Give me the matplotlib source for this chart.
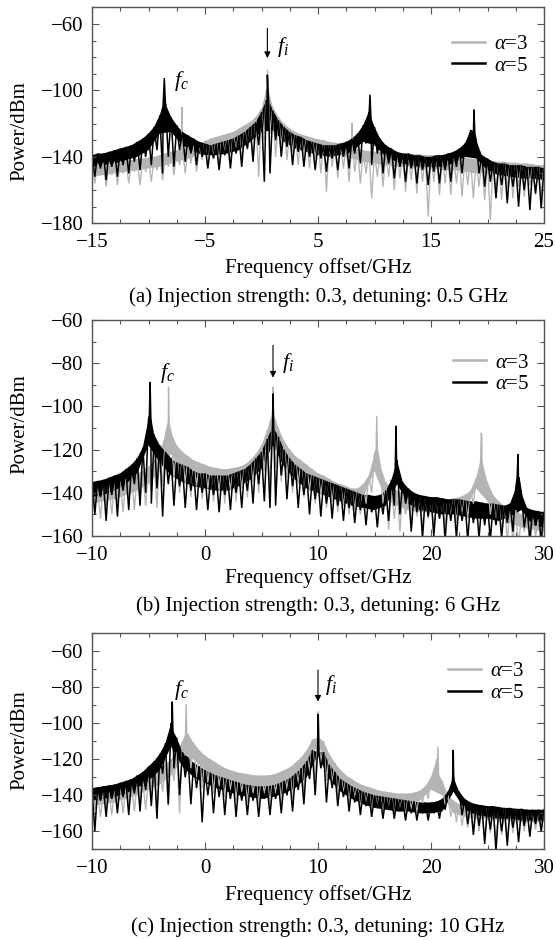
import numpy as np
import matplotlib
matplotlib.use('Agg')
import matplotlib.pyplot as plt
from matplotlib.ticker import FixedLocator, MultipleLocator

plt.rcParams['font.family'] = ['Liberation Serif', 'DejaVu Serif']
plt.rcParams['mathtext.fontset'] = 'custom'
plt.rcParams['mathtext.rm'] = 'Liberation Serif'
plt.rcParams['mathtext.it'] = 'Liberation Serif:italic'
plt.rcParams['axes.unicode_minus'] = True

# ---------------- data ----------------
# sampling grids (GHz): values on the grid = upper envelope, values between = dips
grid_a = np.arange(-15, 25.001, 0.5)
grid_b = np.arange(-10, 30.001, 0.5)
grid_c = np.arange(-10, 30.001, 0.5)
# coarse grids (GHz) for the lower edge of the dense noise band
fgrid_a = np.arange(-15, 25.001, 1.0)
fgrid_b = np.arange(-10, 30.001, 1.0)
fgrid_c = np.arange(-10, 30.001, 1.0)

# (a) alpha = 5
a5_top = [-139, -138, -138, -137, -136, -135, -134, -133, -131, -129,
          -126, -122, -115, -109, -116, -121, -125, -127, -129, -131,
          -132, -133, -132, -131, -130, -129, -127, -125, -122, -119,
          -113, -107, -112, -118, -122, -125, -127, -128, -130, -131,
          -132, -133, -133, -133, -132, -131, -129, -126, -121, -113,
          -122, -129, -133, -135, -137, -138, -138, -139, -139, -140,
          -140, -139, -139, -138, -137, -135, -132, -124, -130, -139,
          -141, -143, -144, -144, -145, -145, -145, -146, -146, -146,
          -147]
a5_dip = [-152, -147, -154, -146, -152, -145, -150, -143, -148, -140,
          -145, -136, -150, -140, -146, -136, -143, -138, -145, -140,
          -147, -141, -148, -139, -147, -138, -146, -135, -143, -133,
          -155, -150, -130, -140, -134, -145, -137, -146, -140, -148,
          -141, -149, -141, -148, -140, -147, -138, -144, -132, -145,
          -138, -150, -144, -153, -146, -155, -147, -156, -148, -157,
          -149, -156, -148, -155, -146, -150, -140, -128, -150, -158,
          -155, -165, -157, -168, -158, -170, -160, -172, -162, -171]
a5_pk_x = [-8.7, -8.6, -8.5, 0.42, 0.52, 0.62, 9.52, 9.6, 9.68, 18.72, 18.8, 18.88]
a5_pk_y = [-108, -92.6, -108, -106, -90.6, -106, -115, -102.6, -116, -125, -111.6, -126]
a5_floor = [-146, -145, -144, -142, -140, -136, -126, -125, -133, -137,
            -139, -139, -138, -136, -131, -125, -124, -131, -135, -137,
            -139, -140, -139, -137, -131, -133, -140, -143, -145, -146,
            -146, -146, -144, -140, -141, -148, -151, -152, -153, -153,
            -154]

# (a) alpha = 3
a3_top = [-144, -144, -143.5, -143, -143, -142.5, -142, -142, -141.5, -141,
          -140.5, -140, -139, -138, -137, -136, -135, -134, -133, -132,
          -130.5, -129, -128, -127, -126, -125, -123, -121, -119, -116,
          -111, -100, -110, -116, -120, -123, -125, -126.5, -127.5, -128.5,
          -129.5, -130, -131, -131.5, -132, -133, -134, -135, -136, -136.5,
          -137, -137, -137.5, -137.5, -138, -138, -138, -138.5, -138.5, -139,
          -139, -139, -139.5, -139.5, -140, -140, -140.5, -141, -141.5, -142,
          -142, -142.5, -143, -143, -143.5, -143.5, -144, -144, -144.5, -145,
          -145]
a3_dip = [-156, -150, -158, -151, -157, -150, -156, -149, -157, -149,
          -155, -148, -154, -146, -151, -145, -150, -144, -149, -142,
          -147, -141, -146, -139, -144, -137, -143, -136, -141, -152,
          -130, -126, -140, -133, -142, -137, -145, -139, -147, -141,
          -150, -161, -146, -153, -147, -155, -149, -156, -150, -165,
          -152, -158, -152, -160, -153, -161, -154, -162, -155, -176,
          -155, -163, -156, -163, -156, -164, -157, -165, -158, -166,
          -178, -160, -166, -159, -165, -158, -164, -157, -163, -163]
a3_pk_x = [-7.06, -7.02, -6.98, 0.42, 0.52, 0.62, 7.98, 8.02, 8.06]
a3_pk_y = [-136, -110, -136, -100, -87.6, -100, -134, -119.6, -134]
a3_floor = [-152, -151, -150, -149, -148, -147, -146, -144, -142, -140,
            -137, -135, -133, -130, -126, -120, -120, -127, -131, -134,
            -136, -138, -139, -141, -143, -144, -145, -146, -146, -147,
            -147, -148, -148, -149, -150, -150, -151, -151, -152, -152,
            -153]

# (b) alpha = 5
b5_top = [-135, -134.5, -134, -133, -132, -131, -129, -127, -124, -119,
          -106, -113, -118, -121, -124, -126, -127, -128, -130, -131,
          -131, -132, -132, -132, -132, -131, -130, -129, -127, -124,
          -121, -115, -104, -114, -120, -124, -127, -129, -131, -132,
          -133, -134, -135, -136, -137, -138, -139, -140, -141, -141,
          -141.5, -141, -139, -134, -125, -135, -138, -140, -141, -141.5,
          -142, -142, -142.5, -143, -143, -143, -143.5, -144, -144, -144.5,
          -145, -145, -145.5, -146, -145, -138, -140, -147, -148, -148.5,
          -149]
b5_dip = [-150, -142, -153, -141, -151, -139, -148, -136, -146, -140,
          -145, -138, -151, -136, -146, -137, -147, -139, -148, -140,
          -148, -141, -149, -141, -148, -140, -147, -139, -145, -136,
          -144, -147, -146, -132, -143, -137, -147, -141, -150, -143,
          -151, -145, -152, -146, -153, -147, -154, -148, -155, -149,
          -156, -150, -153, -146, -150, -145, -158, -149, -161, -151,
          -160, -152, -162, -153, -161, -153, -162, -154, -161, -155,
          -162, -155, -161, -154, -158, -136, -156, -162, -155, -162]
b5_pk_x = [-4.92, -4.86, -4.8, 5.96, 6.02, 6.08, 16.84, 16.9, 16.96, 27.62, 27.7, 27.78]
b5_pk_y = [-104, -88.7, -104, -110, -94.1, -110, -128, -109, -128, -133, -122.2, -133]
b5_floor = [-142, -141, -139, -136, -131, -118, -126, -132, -135, -137,
            -138, -139, -139, -137, -134, -129, -118, -128, -134, -138,
            -140, -142, -144, -146, -147, -148, -146, -136, -145, -148,
            -149, -150, -150, -151, -152, -152, -153, -151, -148, -155,
            -156]

# (b) alpha = 3
b3_top = [-138, -137.5, -137, -136, -135, -134, -133, -132, -131, -130,
          -128, -125, -121, -113, -112, -118, -121, -123, -125, -126,
          -127, -128, -128.5, -129, -129, -128.5, -128, -127, -125, -122,
          -118, -111, -100, -110, -116, -120, -123, -125, -127, -129,
          -131, -132, -133.5, -135, -136, -137, -138, -138, -136, -132,
          -122, -127, -135, -138, -139, -140, -141, -141.5, -142, -142.5,
          -143, -143, -143.5, -143, -142.5, -142, -141, -139, -133, -114,
          -135, -141, -144, -146, -147, -148, -150, -151, -151.5, -152,
          -152]
b3_dip = [-147, -152, -146, -150, -145, -149, -144, -148, -143, -146,
          -140, -147, -137, -112, -133, -140, -136, -142, -137, -143,
          -138, -144, -139, -145, -139, -144, -138, -142, -135, -140,
          -130, -138, -128, -135, -133, -140, -136, -142, -139, -145,
          -141, -147, -144, -149, -146, -150, -148, -150, -145, -140,
          -118, -145, -157, -152, -158, -150, -155, -151, -156, -152,
          -156, -152, -155, -151, -154, -150, -152, -145, -138, -140,
          -150, -154, -158, -162, -163, -165, -158, -164, -160, -165]
b3_pk_x = [-3.29, -3.23, -3.17, 5.95, 6.0, 6.05, 15.14, 15.2, 15.26, 24.39, 24.45, 24.51]
b3_pk_y = [-108, -90.9, -108, -103, -90.9, -103, -120, -104.4, -120, -125, -112.2, -125]
b3_floor = [-145, -144, -143, -141, -139, -136, -130, -122, -130, -133,
            -134, -135, -135, -134, -132, -126, -113, -124, -130, -134,
            -137, -139, -142, -144, -142, -130, -143, -146, -148, -149,
            -149, -150, -149, -148, -138, -144, -150, -154, -156, -157,
            -158]

# (c) alpha = 5
c5_top = [-136, -135.5, -135, -134.5, -134, -133, -132, -131, -129, -127,
          -124, -121, -117, -111, -100, -108, -116, -119, -122, -124,
          -126, -127.5, -129, -130, -131, -132, -133, -134, -134.5, -135,
          -135, -135, -134.5, -133.5, -132, -130.5, -128, -125, -121, -115,
          -102, -116, -123, -127, -131, -133, -135, -136.5, -138, -139,
          -140, -140.5, -141, -141.5, -142, -142.5, -143, -143.5, -144, -144,
          -144, -143.5, -142, -138, -128, -138, -142, -144, -145, -145.5,
          -146, -146, -146.5, -147, -147, -147.5, -147.5, -148, -148, -148,
          -148]
c5_dip = [-160, -143, -152, -142, -150, -141, -151, -139, -149, -137,
          -146, -153, -128, -145, -125, -140, -130, -145, -136, -155,
          -140, -150, -141, -151, -142, -152, -143, -151, -143, -152,
          -142, -151, -142, -150, -140, -149, -137, -145, -131, -140,
          -125, -144, -136, -146, -141, -149, -144, -151, -146, -152,
          -147, -153, -148, -153, -149, -154, -150, -154, -150, -154,
          -150, -153, -148, -140, -140, -151, -156, -162, -157, -167,
          -159, -171, -160, -168, -158, -166, -157, -163, -156, -160]
c5_pk_x = [-2.96, -2.9, -2.84, 9.96, 10.02, 10.08, 21.91, 21.97, 22.03]
c5_pk_y = [-104, -88, -104, -116, -94.8, -116, -131, -114.8, -131]
c5_floor = [-143, -142, -141, -139, -136, -132, -126, -113, -124, -130,
            -133, -136, -138, -140, -141, -142, -141, -139, -136, -130,
            -118, -131, -138, -142, -145, -147, -148, -149, -149, -150,
            -150, -149, -138, -148, -151, -152, -153, -153, -154, -154,
            -154]

# (c) alpha = 3
c3_top = [-139, -138.5, -138, -137.5, -137, -136, -135, -134, -133, -132,
          -130, -128, -126, -123, -120, -116, -110, -106, -111, -115,
          -118, -120, -122, -124, -125.5, -126.5, -127.5, -128, -128.5, -129,
          -129, -129, -128.5, -127.5, -126, -124.5, -122, -119, -115, -109,
          -100, -110, -117, -122, -126, -129, -131, -133, -134.5, -135.5,
          -136.5, -137.5, -138, -138.5, -139, -139, -139, -138.5, -137.5, -135,
          -130, -120, -132, -140, -143, -145, -145.5, -146, -146, -146.5,
          -147, -147, -147.5, -147.5, -148, -148, -148.5, -148.5, -149, -149,
          -149]
c3_dip = [-148, -152, -147, -151, -146, -150, -145, -149, -144, -148,
          -142, -147, -138, -146, -132, -150, -118, -125, -130, -136,
          -133, -139, -135, -141, -137, -143, -138, -144, -139, -145,
          -139, -145, -139, -144, -137, -142, -134, -138, -127, -130,
          -122, -132, -133, -140, -139, -145, -142, -148, -145, -150,
          -147, -151, -148, -152, -149, -152, -148, -150, -144, -142,
          -133, -136, -146, -152, -155, -157, -158, -160, -160, -164,
          -161, -166, -162, -165, -161, -164, -160, -162, -159, -160]
c3_pk_x = [-1.73, -1.67, -1.61, 9.97, 10.02, 10.07, 20.55, 20.61, 20.67]
c3_pk_y = [-106, -89.4, -106, -108, -93.5, -108, -128, -113, -128]
c3_floor = [-146, -145, -144, -142, -140, -137, -134, -129, -120, -120,
            -126, -129, -132, -134, -135, -135, -135, -133, -130, -124,
            -112, -124, -132, -137, -140, -142, -144, -145, -145, -143,
            -137, -140, -150, -152, -153, -153, -154, -154, -155, -155,
            -155]

captions = ['(a) Injection strength: 0.3, detuning: 0.5 GHz',
            '(b) Injection strength: 0.3, detuning: 6 GHz',
            '(c) Injection strength: 0.3, detuning: 10 GHz']
legend_labels = [r'$\alpha$=3', r'$\alpha$=5']


def spectrum(grid, top, dip, pk_x, pk_y):
    top = np.asarray(top, float)
    dip = np.asarray(dip, float)
    assert len(top) == len(grid) and len(dip) == len(grid) - 1
    x = np.concatenate([grid, grid[:-1] + 0.25, np.asarray(pk_x, float)])
    y = np.concatenate([top, dip, np.asarray(pk_y, float)])
    order = np.argsort(x, kind='stable')
    return x[order], y[order]


def band(grid, top, pk_x, pk_y, fgrid, floor):
    floor = np.asarray(floor, float)
    assert len(floor) == len(fgrid)
    xt = np.concatenate([grid, np.asarray(pk_x, float)])
    yt = np.concatenate([np.asarray(top, float), np.asarray(pk_y, float)])
    o = np.argsort(xt, kind='stable')
    xs = np.concatenate([xt[o], fgrid[::-1]])
    ys = np.concatenate([yt[o], floor[::-1]])
    return xs, ys


# ---------------- figure ----------------
W, H = 556, 940
fig = plt.figure(figsize=(W / 100, H / 100), dpi=100)
GRAY = '#b4b4b4'
SPINE = '#555555'
FS = 15

panels = [
    dict(top=7.3, grid=grid_a, fgrid=fgrid_a,
         s3=(a3_top, a3_dip, a3_pk_x, a3_pk_y), f3=a3_floor,
         s5=(a5_top, a5_dip, a5_pk_x, a5_pk_y), f5=a5_floor,
         xlim=(-15, 25), ylim=(-180, -50),
         xmaj=[-15, -5, 5, 15, 25], ymaj=[-60, -100, -140, -180],
         xlab_y=268, ylab_y=131, cap_y=297, leg=(0.965, 0.875),
         arrow=(0.52, -62.6, -80.6), fi=(1.4, -73.6), fc=(-7.7, -94.6)),
    dict(top=320, grid=grid_b, fgrid=fgrid_b,
         s3=(b3_top, b3_dip, b3_pk_x, b3_pk_y), f3=b3_floor,
         s5=(b5_top, b5_dip, b5_pk_x, b5_pk_y), f5=b5_floor,
         xlim=(-10, 30), ylim=(-160, -60),
         xmaj=[-10, 0, 10, 20, 30], ymaj=[-60, -80, -100, -120, -140, -160],
         xlab_y=578, ylab_y=424, cap_y=606, leg=(0.967, 0.847),
         arrow=(6.02, -71.7, -86.7), fi=(6.8, -79.8), fc=(-4.0, -84.7)),
    dict(top=633.3, grid=grid_c, fgrid=fgrid_c,
         s3=(c3_top, c3_dip, c3_pk_x, c3_pk_y), f3=c3_floor,
         s5=(c5_top, c5_dip, c5_pk_x, c5_pk_y), f5=c5_floor,
         xlim=(-10, 30), ylim=(-170, -50),
         xmaj=[-10, 0, 10, 20, 30], ymaj=[-60, -80, -100, -120, -140, -160],
         xlab_y=895, ylab_y=740, cap_y=927, leg=(0.956, 0.869),
         arrow=(10.0, -70.4, -88.0), fi=(10.6, -78.7), fc=(-2.75, -81.5)),
]

for i, p in enumerate(panels):
    left, right = 92, 544
    top = p['top']
    bottom = top + 216
    ax = fig.add_axes([left / W, 1 - bottom / H, (right - left) / W, (bottom - top) / H])

    for s, fl, col, lw, lab in [(p['s3'], p['f3'], GRAY, 0.95, legend_labels[0]),
                                (p['s5'], p['f5'], 'black', 1.1, legend_labels[1])]:
        bx, by = band(p['grid'], s[0], s[2], s[3], p['fgrid'], fl)
        ax.fill(bx, by, color=col, lw=0)
        xs, ys = spectrum(p['grid'], *s)
        ax.plot(xs, ys, color=col, lw=lw, label=lab, solid_joinstyle='miter')

    ax.set_xlim(*p['xlim'])
    ax.set_ylim(*p['ylim'])
    ax.xaxis.set_major_locator(FixedLocator(p['xmaj']))
    ax.xaxis.set_minor_locator(MultipleLocator(2.5))
    ax.yaxis.set_major_locator(FixedLocator(p['ymaj']))
    ax.yaxis.set_minor_locator(MultipleLocator(10))
    ax.tick_params(which='both', direction='in', top=True, right=True,
                   labelsize=FS, color=SPINE)
    ax.tick_params(which='major', length=5, width=0.8)
    ax.tick_params(which='minor', length=3, width=0.8)
    ax.tick_params(axis='x', pad=7)
    ax.tick_params(axis='y', pad=6)
    for sp in ax.spines.values():
        sp.set_color(SPINE)
        sp.set_linewidth(1.0)

    ax.set_xlabel('Frequency offset/GHz', fontsize=FS, va='center')
    ax.xaxis.set_label_coords(0.5, (bottom - p['xlab_y']) / 216)
    ax.set_ylabel('Power/dBm', fontsize=FS, va='center', ha='center')
    ax.yaxis.set_label_coords((20 - left) / (right - left), (bottom - p['ylab_y']) / 216)

    fig.text(318 / W, 1 - p['cap_y'] / H, captions[i], ha='center', va='center', fontsize=FS)

    leg = ax.legend(loc='upper right', bbox_to_anchor=p['leg'], frameon=False,
                    fontsize=FS, handlelength=1.6, handletextpad=0.4,
                    borderaxespad=0, borderpad=0, labelspacing=0.1)
    for ln in leg.get_lines():
        ln.set_linewidth(1.8)

    ax_x, y_tail, y_tip = p['arrow']
    ax.annotate('', xy=(ax_x, y_tip), xytext=(ax_x, y_tail),
                arrowprops=dict(arrowstyle='-|>', color='black', lw=0.8,
                                mutation_scale=9, shrinkA=0, shrinkB=0))
    ax.text(p['fi'][0], p['fi'][1], r'$f_i$', fontsize=16, ha='left', va='center')
    ax.text(p['fc'][0], p['fc'][1], r'$f_c$', fontsize=16, ha='left', va='center')

fig.savefig('out.png', dpi=100)
